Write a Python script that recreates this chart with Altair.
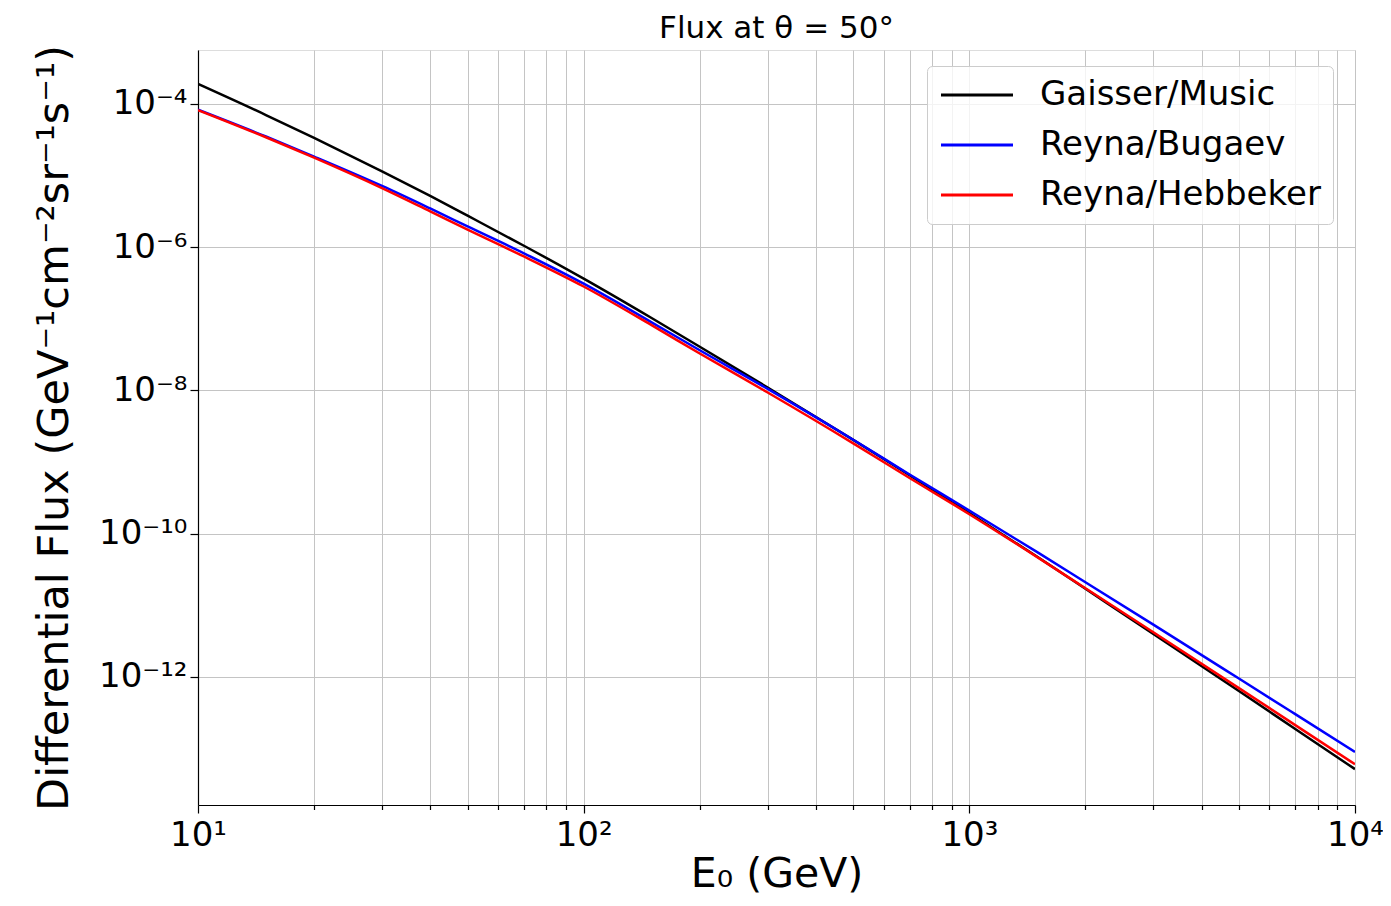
import altair as alt
import pandas as pd

energy = [10, 15, 20, 30, 40, 50, 70, 100, 150, 200, 300, 500, 700,
          1000, 1500, 2000, 3000, 5000, 7000, 10000]

# Differential flux (GeV^-1 cm^-2 sr^-1 s^-1)
gaisser_music = [1.905e-4, 7.01e-5, 3.35e-5, 1.143e-5, 5.19e-6, 2.75e-6, 1.047e-6,
                 3.63e-7, 1.023e-7, 4.07e-8, 1.096e-8, 2.03e-9, 6.52e-10,
                 1.936e-10, 4.73e-11, 1.69e-11, 3.96e-12, 6.30e-13, 1.862e-13, 5.12e-14]
reyna_bugaev = [8.32e-5, 3.51e-5, 1.841e-5, 7.16e-6, 3.47e-6, 1.950e-6, 8.22e-7,
                3.09e-7, 8.91e-8, 3.63e-8, 1.047e-8, 2.04e-9, 6.68e-10,
                2.09e-10, 5.50e-11, 2.09e-11, 5.33e-12, 9.42e-13, 3.00e-13, 8.91e-14]
reyna_hebbeker = [8.22e-5, 3.43e-5, 1.778e-5, 6.68e-6, 3.16e-6, 1.758e-6, 7.41e-7,
                  2.82e-7, 8.13e-8, 3.27e-8, 9.33e-9, 1.82e-9, 5.96e-10,
                  1.862e-10, 4.68e-11, 1.718e-11, 4.17e-12, 6.92e-13, 2.11e-13, 5.98e-14]

series = ["Gaisser/Music", "Reyna/Bugaev", "Reyna/Hebbeker"]
colors = ["#000000", "#0000ff", "#ff0000"]
title_text = ["Flux at θ = 50°"]

x_ticks = [m * 10 ** k for k in (1, 2, 3) for m in range(1, 10)] + [10000]
y_ticks = [1e-4, 1e-6, 1e-8, 1e-10, 1e-12]

rows = []
for name, vals in zip(series, [gaisser_music, reyna_bugaev, reyna_hebbeker]):
    for e, f in zip(energy, vals):
        rows.append({"E": e, "flux": f, "model": name})
df = pd.DataFrame(rows)

FONT = "DejaVu Sans"
W, H = 1157, 755

x_label_expr = ("datum.value == 10 ? '10¹' : datum.value == 100 ? '10²' : "
                "datum.value == 1000 ? '10³' : datum.value == 10000 ? '10⁴' : ''")
y_label_expr = ("round(log(datum.value)/LN10) == -4 ? '10⁻⁴' : "
                "round(log(datum.value)/LN10) == -6 ? '10⁻⁶' : "
                "round(log(datum.value)/LN10) == -8 ? '10⁻⁸' : "
                "round(log(datum.value)/LN10) == -10 ? '10⁻¹⁰' : "
                "round(log(datum.value)/LN10) == -12 ? '10⁻¹²' : ''")
major_test = "abs(log(datum.value)/LN10 - round(log(datum.value)/LN10)) < 0.001"

lines = alt.Chart(df).mark_line(strokeWidth=2.5, clip=True, interpolate="monotone").encode(
    x=alt.X("E:Q",
            scale=alt.Scale(type="log", domain=[10, 10000], nice=False),
            axis=alt.Axis(values=x_ticks, labelExpr=x_label_expr, title="E₀ (GeV)",
                          grid=True, gridColor="#c4c4c4", gridWidth=1,
                          tickSize={"condition": {"test": major_test, "value": 8}, "value": 4.5},
                          tickColor="black", tickWidth=1.2,
                          domainColor="black", domainWidth=1.2,
                          labelFont=FONT, labelFontSize=34, labelColor="black",
                          labelPadding=5, labelFlush=False, labelOverlap=False, labelBound=False,
                          titleFont=FONT, titleFontSize=41, titleFontWeight="normal",
                          titleColor="black", titleX=W / 2, titleY=81,
                          titleBaseline="alphabetic", titleAlign="center")),
    y=alt.Y("flux:Q",
            scale=alt.Scale(type="log", domain=[10 ** -13.792, 10 ** -3.246], nice=False),
            axis=alt.Axis(values=y_ticks, labelExpr=y_label_expr,
                          title="Differential Flux (GeV⁻¹cm⁻²sr⁻¹s⁻¹)",
                          grid=True, gridColor="#c4c4c4", gridWidth=1,
                          tickSize=8, tickColor="black", tickWidth=1.2,
                          domainColor="black", domainWidth=1.2,
                          labelFont=FONT, labelFontSize=34, labelColor="black",
                          labelPadding=3, labelFlush=False, labelOverlap=False, labelBound=False,
                          titleFont=FONT, titleFontSize=43, titleFontWeight="normal",
                          titleColor="black", titleAngle=270, titleX=-122, titleY=H / 2,
                          titleBaseline="bottom", titleAlign="center")),
    color=alt.Color("model:N",
                    scale=alt.Scale(domain=series, range=colors),
                    legend=alt.Legend(title=None, orient="none", legendX=729, legendY=16,
                                      symbolType="M-2.5,0L9.5,0", symbolSize=144,
                                      symbolStrokeWidth=3, labelFont=FONT,
                                      labelFontSize=34, labelColor="black", labelLimit=0,
                                      labelOffset=67, rowPadding=16, padding=12,
                                      strokeColor="#cccccc",
                                      fillColor="rgba(255,255,255,0.8)",
                                      cornerRadius=5)),
)

title = alt.Chart(pd.DataFrame({"t": title_text})).mark_text(
    font=FONT, fontSize=31, color="black", baseline="alphabetic", align="center"
).encode(text="t:N", x=alt.value(W / 2), y=alt.value(-12))

chart = alt.layer(lines, title).properties(
    width=W,
    height=H,
    autosize=alt.AutoSizeParams(type="none"),
    padding={"left": 190, "top": 42, "right": 28, "bottom": 90},
).configure_view(stroke="black", strokeWidth=1.2).configure(font=FONT)

chart.save("out.html", embed_options={"renderer": "svg", "actions": False})
